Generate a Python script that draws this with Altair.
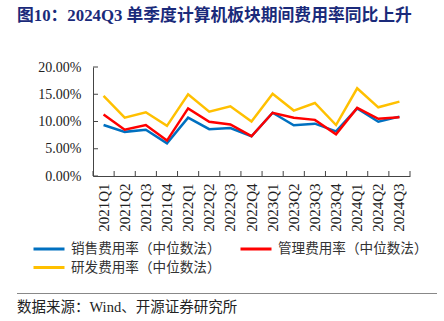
import altair as alt
import pandas as pd

quarters = ["2021Q1", "2021Q2", "2021Q3", "2021Q4", "2022Q1", "2022Q2", "2022Q3", "2022Q4",
            "2023Q1", "2023Q2", "2023Q3", "2023Q4", "2024Q1", "2024Q2", "2024Q3"]
sales = [9.35, 8.1, 8.5, 6.0, 10.7, 8.6, 8.8, 7.3, 11.6, 9.3, 9.6, 8.2, 12.4, 9.95, 10.9]
admin = [11.3, 8.5, 9.35, 6.5, 12.4, 9.95, 9.45, 7.3, 11.6, 10.7, 10.3, 7.65, 12.5, 10.5, 10.8]
rnd = [14.7, 10.7, 11.7, 9.2, 15.0, 11.8, 12.8, 10.0, 15.1, 12.0, 13.4, 9.35, 16.1, 12.6, 13.65]
series_names = ["销售费用率（中位数法）", "管理费用率（中位数法）", "研发费用率（中位数法）"]
colors = ["#0070C0", "#FF0000", "#FFC000"]
y_ticks = [0, 5, 10, 15, 20]
title_text = "图10：2024Q3 单季度计算机板块期间费用率同比上升"
source_text = "数据来源：Wind、开源证券研究所"

W, H = 317, 109

rows = []
for name, vals in zip(series_names, [sales, admin, rnd]):
    for q, v in zip(quarters, vals):
        rows.append({"q": q, "v": v / 100, "s": name})
df = pd.DataFrame(rows)

xscale = alt.Scale(type="band", domain=quarters, paddingInner=0, paddingOuter=0)
yscale = alt.Scale(domain=[0, 0.2])
xaxis = alt.Axis(title=None, labelAngle=270, labelFontSize=15, labelPadding=7,
                 labelOverlap=False)
yaxis = alt.Axis(title=None, values=[t / 100 for t in y_ticks], format=".2%",
                 labelFontSize=14, labelPadding=12)

lines = alt.Chart(df).mark_line(strokeWidth=2.5).encode(
    x=alt.X("q:N", scale=xscale, sort=quarters, axis=xaxis),
    y=alt.Y("v:Q", scale=yscale, axis=yaxis),
    color=alt.Color("s:N", scale=alt.Scale(domain=series_names, range=colors),
                    legend=alt.Legend(title=None, orient="none", legendX=-61, legendY=175,
                                      columns=2, direction="horizontal",
                                      symbolType="stroke", symbolSize=961,
                                      symbolStrokeWidth=3, labelFont="Noto Sans CJK SC",
                                      labelFontSize=13.6, labelColor="#333", labelLimit=300,
                                      labelOffset=5, columnPadding=18, rowPadding=4.5,
                                      clipHeight=14, padding=0)),
)

xt = alt.Chart(pd.DataFrame({"q": quarters})).mark_rule(color="#444").encode(
    x=alt.X("q:N", scale=xscale, sort=quarters, bandPosition=0, axis=xaxis),
    y=alt.value(H), y2=alt.value(H - 5))
xt_end = alt.Chart(pd.DataFrame({"q": quarters[-1:]})).mark_rule(color="#444").encode(
    x=alt.X("q:N", scale=xscale, sort=quarters, bandPosition=1, axis=xaxis),
    y=alt.value(H), y2=alt.value(H - 5))
yt = alt.Chart(pd.DataFrame({"v": [t / 100 for t in y_ticks]})).mark_rule(color="#444").encode(
    y=alt.Y("v:Q", scale=yscale, axis=yaxis), x=alt.value(0), x2=alt.value(5))

title = alt.Chart(pd.DataFrame({"t": [title_text]})).mark_text(
    align="left", baseline="middle", fontSize=16.8, fontWeight="bold",
    font="Liberation Serif, Noto Sans CJK SC", color="#1a2a7a").encode(
    text="t:N", x=alt.value(-76), y=alt.value(-51))
footer = alt.Chart(pd.DataFrame({"t": [source_text]})).mark_text(
    align="left", baseline="middle", fontSize=14.5,
    font="Liberation Serif, Noto Sans CJK SC", color="#222").encode(
    text="t:N", x=alt.value(-76), y=alt.value(241))
sep = alt.Chart(pd.DataFrame({"a": [0]})).mark_rule(color="#888", strokeWidth=1.2).encode(
    x=alt.value(-76), x2=alt.value(344), y=alt.value(226.5))

chart = alt.layer(lines, xt, xt_end, yt, title, footer, sep).properties(
    width=W, height=H,
    background="white",
    autosize=alt.AutoSizeParams(type="none"),
    padding={"left": 93, "top": 67, "right": 34, "bottom": 145},
).configure_view(stroke=None).configure_axis(
    labelFont="Liberation Serif", labelColor="#222", ticks=False, grid=False,
    domainColor="#444", domainWidth=1
)

chart.save("out.html", embed_options={"renderer": "svg", "actions": False})
